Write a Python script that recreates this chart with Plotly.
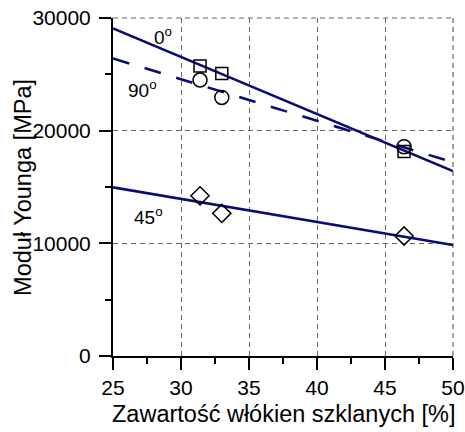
import plotly.graph_objects as go

# Measured Young's modulus vs. glass-fibre content for three orientations
fibre_0 = [31.4, 33.0, 46.4]
modulus_0 = [25750, 25080, 18150]

fibre_90 = [31.4, 33.0, 46.4]
modulus_90 = [24490, 22950, 18570]

fibre_45 = [31.4, 33.0, 46.4]
modulus_45 = [14220, 12660, 10650]

# Linear trend lines, evaluated at the ends of the x range
trend_x = [25, 50]
trend_0 = [29080, 16410]
trend_90 = [26410, 17190]
trend_45 = [14970, 9850]

x_ticks = [25, 30, 35, 40, 45, 50]
y_ticks = [0, 10000, 20000, 30000]

NAVY = "#0a0a78"
FONT = "Liberation Sans, Arial, sans-serif"
GRID_COLOR = "#666666"
GRID_DASH = "5px,4px"

fig = go.Figure()

fig.add_trace(go.Scatter(x=trend_x, y=trend_0, mode="lines",
                         line=dict(color=NAVY, width=2.6)))
fig.add_trace(go.Scatter(x=trend_x, y=trend_90, mode="lines",
                         line=dict(color=NAVY, width=2.6, dash="17px,16px")))
fig.add_trace(go.Scatter(x=trend_x, y=trend_45, mode="lines",
                         line=dict(color=NAVY, width=2.6)))

marker_line = dict(color="black", width=1.5)
fig.add_trace(go.Scatter(x=fibre_0, y=modulus_0, mode="markers",
                         marker=dict(symbol="square-open", size=12, color="black", line=marker_line)))
fig.add_trace(go.Scatter(x=fibre_90, y=modulus_90, mode="markers",
                         marker=dict(symbol="circle-open", size=14, color="black", line=marker_line)))
fig.add_trace(go.Scatter(x=fibre_45, y=modulus_45, mode="markers",
                         marker=dict(symbol="diamond-open", size=14, color="black", line=marker_line)))

# Orientation labels
labels = [("0<sup>o</sup>", 28.7, 28400), ("90<sup>o</sup>", 27.2, 23700), ("45<sup>o</sup>", 27.6, 12450)]
for text, lx, ly in labels:
    fig.add_annotation(x=lx, y=ly, text=text, showarrow=False,
                       font=dict(family=FONT, size=19, color="black"))

# Axis titles, placed in paper coordinates
title_font = dict(family=FONT, size=23.5, color="black")
fig.add_annotation(text="Zawartość włókien szklanych [%]", xref="paper", yref="paper",
                   x=0.5, y=-0.172, xanchor="center", yanchor="middle",
                   showarrow=False, font=title_font)
fig.add_annotation(text="Moduł Younga [MPa]", xref="paper", yref="paper",
                   x=-0.265, y=0.5, xanchor="center", yanchor="middle", textangle=-90,
                   showarrow=False, font=title_font)

# Dashed grid lines along the top and right edges of the plot area
for x0, y0, x1, y1 in [(0, 1, 1, 1), (1, 0, 1, 1)]:
    fig.add_shape(type="line", xref="paper", yref="paper", x0=x0, y0=y0, x1=x1, y1=y1,
                  line=dict(color=GRID_COLOR, width=1.2, dash=GRID_DASH), layer="below")

grid = dict(showgrid=True, gridcolor=GRID_COLOR, gridwidth=1.2, griddash=GRID_DASH)
axis_common = dict(showline=True, linecolor="black", linewidth=2,
                   ticks="outside", ticklen=12, tickwidth=2, tickcolor="black",
                   zeroline=False, mirror=False, automargin=False,
                   tickfont=dict(family=FONT, size=21, color="black"),
                   **grid)

fig.update_xaxes(range=[25, 50], tickvals=x_ticks, ticktext=[str(v) for v in x_ticks],
                 minor=dict(dtick=2.5, ticks="outside", ticklen=6, tickwidth=1.5,
                            tickcolor="black", showgrid=False),
                 **axis_common)
fig.update_yaxes(range=[0, 30000], tickvals=y_ticks, ticktext=[str(v) for v in y_ticks],
                 minor=dict(dtick=5000, ticks="outside", ticklen=6, tickwidth=1.5,
                            tickcolor="black", showgrid=False),
                 ticklabelstandoff=4,
                 **axis_common)

fig.update_layout(width=465, height=432, showlegend=False,
                  margin=dict(l=113, r=12, t=18, b=76),
                  plot_bgcolor="white", paper_bgcolor="white",
                  font=dict(family=FONT, size=20, color="black"))

fig.write_html("out.html")
